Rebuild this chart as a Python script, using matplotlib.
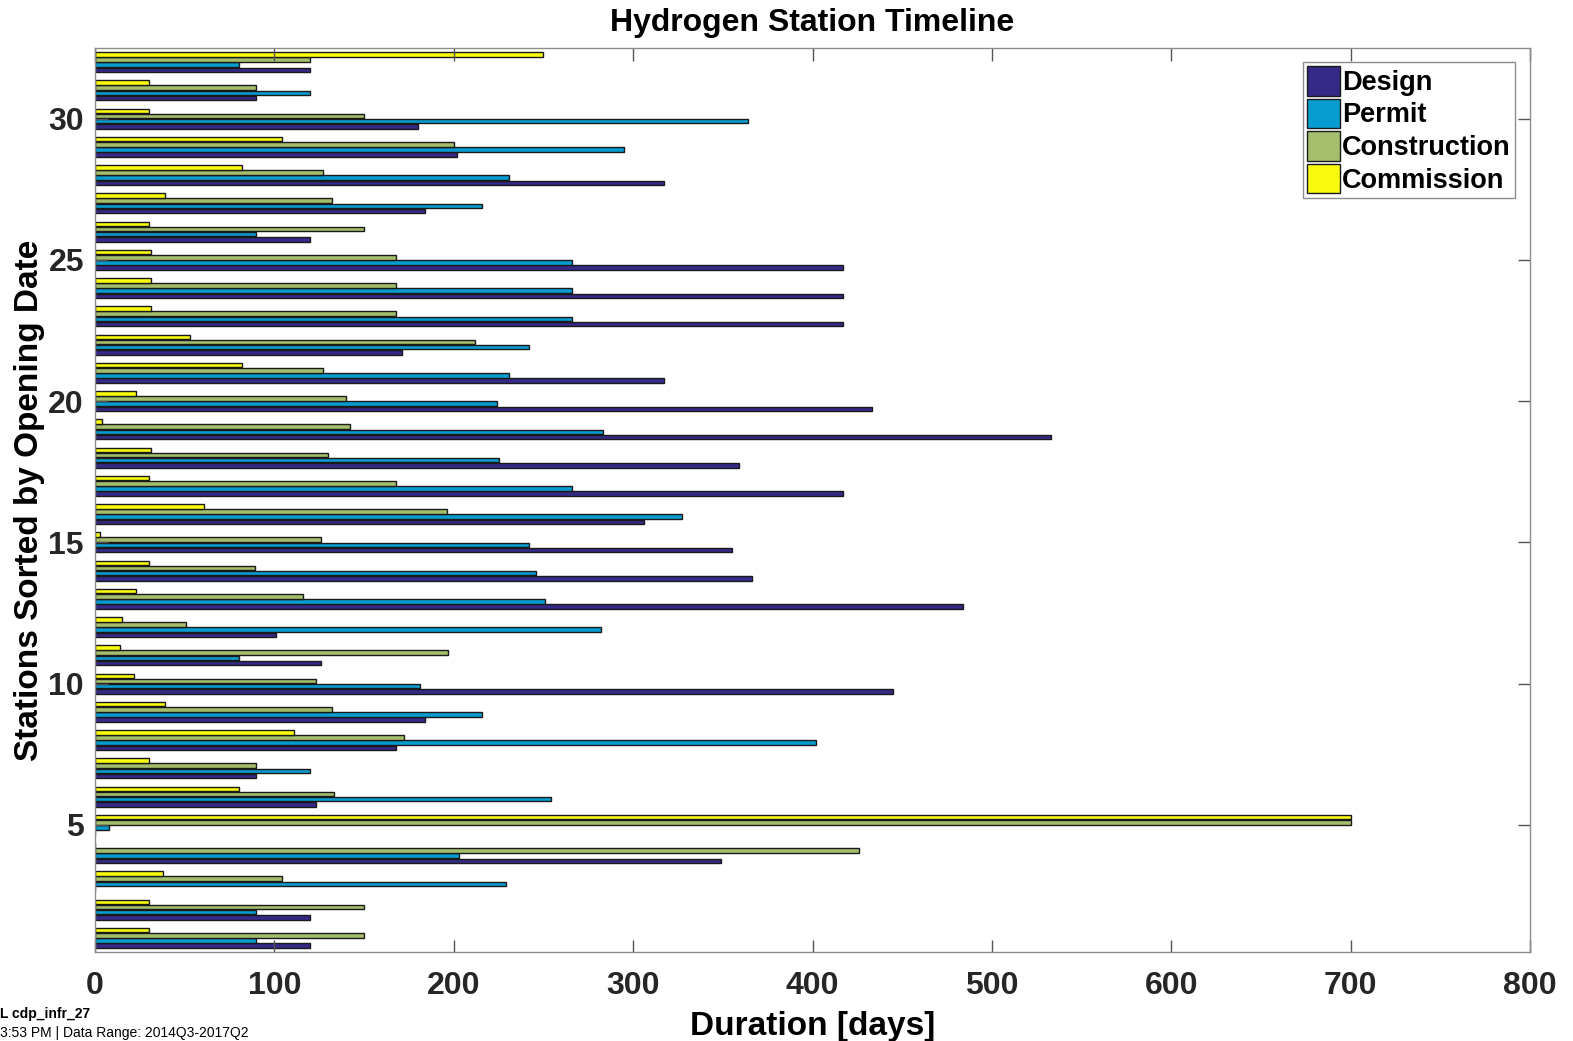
import numpy as np
import matplotlib
matplotlib.use("Agg")
import matplotlib.pyplot as plt

# stations 1..32, sorted by opening date
stations = list(range(1, 33))
design = [120, 120, 0, 349, 0, 123, 90, 168, 184, 445, 126, 101, 484, 366, 355, 306,
          417, 359, 533, 433, 317, 171, 417, 417, 417, 120, 184, 317, 202, 180, 90, 120]
permit = [90, 90, 229, 203, 8, 254, 120, 402, 216, 181, 80, 282, 251, 246, 242, 327,
          266, 225, 283, 224, 231, 242, 266, 266, 266, 90, 216, 231, 295, 364, 120, 80]
construction = [150, 150, 104, 426, 700, 133, 90, 172, 132, 123, 197, 51, 116, 89, 126, 196,
                168, 130, 142, 140, 127, 212, 168, 168, 168, 150, 132, 127, 200, 150, 90, 120]
commission = [30, 30, 38, 0, 700, 80, 30, 111, 39, 22, 14, 15, 23, 30, 3, 61,
              30, 31, 4, 23, 82, 53, 31, 31, 31, 30, 39, 82, 104, 30, 30, 250]

phases = ["Design", "Permit", "Construction", "Commission"]
# parula(4)
colors = ["#352a87", "#079cd0", "#a5be6b", "#f9fb0e"]

plt.rcParams['font.family'] = ['Liberation Sans', 'DejaVu Sans']

fig = plt.figure(figsize=(15.73, 10.41), dpi=100)
ax = fig.add_axes([0.0604, 0.0855, 0.9123, 0.8684])

y = np.array(stations)
n = len(phases)
group_w = min(0.8, n / (n + 1.5))
slot = group_w / n
for i, (vals, c, name) in enumerate(zip([design, permit, construction, commission], colors, phases)):
    off = (i - (n - 1) / 2) * slot
    ax.barh(y + off, vals, height=slot * 0.9, color=c, edgecolor="#1a1a1a",
            linewidth=1.0, label=name)

ax.set_xlim(0, 800)
ax.set_ylim(0.5, 32.5)
ax.set_xticks(range(0, 801, 100))
ax.set_yticks([5, 10, 15, 20, 25, 30])
ax.tick_params(direction="in", top=True, right=True, length=9, width=1,
               color="#555555", labelsize=23)
ax.tick_params(axis="x", pad=14)
ax.tick_params(axis="y", pad=8)
for lab in ax.get_xticklabels() + ax.get_yticklabels():
    lab.set_fontweight("bold")
    lab.set_color("#262626")
for sp in ax.spines.values():
    sp.set_color("#8c8c8c")
    sp.set_linewidth(1)

ax.set_title("Hydrogen Station Timeline", fontsize=23, fontweight="bold", pad=12)
ax.set_xlabel("Duration [days]", fontsize=24, fontweight="bold", labelpad=7)
ax.set_ylabel("Stations Sorted by Opening Date", fontsize=24, fontweight="bold", labelpad=2)

leg = ax.legend(loc="upper right", bbox_to_anchor=(0.9895, 0.9845),
                prop={"weight": "bold", "size": 19.5}, fancybox=False, edgecolor="#8c8c8c",
                framealpha=1, borderpad=0.15, labelspacing=0.1, handlelength=1.2,
                handleheight=1.3, handletextpad=0.1, borderaxespad=0)
leg.get_frame().set_linewidth(1)

fig.text(0.0, 0.019, "L cdp_infr_27", fontsize=10, fontweight="bold", va="bottom")
fig.text(0.0, 0.001, "3:53 PM | Data Range: 2014Q3-2017Q2", fontsize=10, va="bottom")

fig.savefig("out.png", dpi=100)
